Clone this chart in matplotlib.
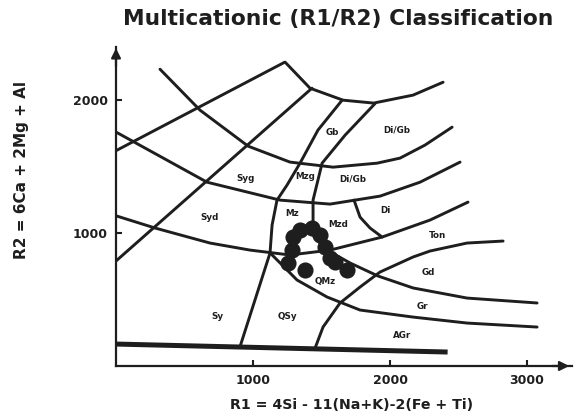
import matplotlib
matplotlib.use("Agg")
import matplotlib.pyplot as plt

plt.rcParams['font.family'] = ['DejaVu Sans']

# field boundaries of the R1-R2 diagram, (R1, R2) pairs
line_a = [(0, 1620), (1230, 2285)]
top_curve = [(1234, 2286), (1416, 2090), (1657, 2000), (1880, 1978), (2168, 2038), (2387, 2135)]
line_d = [(0, 790), (1430, 2090)]
curve_e = [(321, 2233), (613, 1925), (964, 1654), (1270, 1534), (1584, 1496),
           (1905, 1526), (2073, 1564), (2255, 1662), (2453, 1797)]
curve_b = [(0, 1760), (664, 1383), (1197, 1248), (1562, 1218), (1927, 1278),
           (2219, 1383), (2511, 1534)]
curve_c = [(0, 1130), (285, 1038), (686, 925), (978, 872), (1270, 835), (1562, 872),
           (1942, 970), (2292, 1098), (2569, 1233)]
di_bound = [(1737, 1248), (1781, 1120), (1854, 1038), (1942, 970)]
curve_h = [(1453, 135), (1511, 293), (1635, 474), (1781, 594), (1927, 707),
           (2168, 820), (2292, 865), (2562, 925), (2825, 940)]
curve_i = [(1891, 1975), (1672, 1737), (1504, 1526), (1438, 1248), (1438, 985),
           (1526, 880), (1708, 775), (1912, 677), (2168, 587), (2562, 511), (3073, 474)]
line_r1 = [(1650, 2000), (1474, 1775), (1343, 1526), (1248, 1361), (1175, 1248),
           (1139, 1060), (1124, 850), (905, 145)]
curve_j = [(1135, 840), (1321, 647), (1540, 519), (1781, 421), (2168, 368),
           (2562, 323), (3073, 293)]
base_line = [(0, 165), (2420, 105)]

boundaries = [line_a, top_curve, line_d, curve_e, curve_b, curve_c,
              di_bound, curve_h, curve_i, line_r1, curve_j]

field_names = ['Gb', 'Di/Gb', 'Syg', 'Mzg', 'Di/Gb', 'Syd', 'Mz', 'Mzd', 'Di',
               'Ton', 'Gd', 'Gr', 'AGr', 'Sy', 'QSy', 'QMz']
field_r1 = [1577, 2051, 942, 1380, 1730, 686, 1285, 1620, 1963,
            2343, 2277, 2234, 2088, 737, 1248, 1526]
field_r2 = [1759, 1775, 1414, 1429, 1406, 1120, 1150, 1068, 1173,
            985, 707, 451, 226, 376, 376, 632]

# samples
sample_r1 = [1343, 1431, 1489, 1292, 1285, 1255, 1380, 1526, 1562, 1599, 1686]
sample_r2 = [1023, 1038, 985, 970, 872, 774, 722, 895, 812, 782, 722]

ink = '#1e1e1e'

fig = plt.figure(figsize=(5.76, 4.2), dpi=100)
ax = fig.add_axes([0.2014, 0.1286, 0.7917, 0.7595])
ax.set_xlim(0, 3328)
ax.set_ylim(0, 2400)

for seg in boundaries:
    xs, ys = zip(*seg)
    ax.plot(xs, ys, color=ink, lw=2.1, solid_capstyle='round', solid_joinstyle='round')
xs, ys = zip(*base_line)
ax.plot(xs, ys, color=ink, lw=3.6, solid_capstyle='butt')

for name, x, y in zip(field_names, field_r1, field_r2):
    ax.text(x, y, name, ha='center', va='center', fontsize=6.3,
            fontweight='bold', color=ink)

ax.scatter(sample_r1, sample_r2, s=135, color=ink, zorder=5, linewidths=0)

for side in ['top', 'right']:
    ax.spines[side].set_visible(False)
for side in ['left', 'bottom']:
    ax.spines[side].set_linewidth(1.6)
    ax.spines[side].set_color(ink)

ax.annotate('', xy=(0, 1.005), xytext=(0, 0.93), xycoords='axes fraction',
            arrowprops=dict(arrowstyle='-|>', lw=1.6, color=ink, mutation_scale=14))
ax.annotate('', xy=(1.0, 0), xytext=(0.95, 0), xycoords='axes fraction',
            arrowprops=dict(arrowstyle='-|>', lw=1.6, color=ink, mutation_scale=14))

ax.set_xticks([1000, 2000, 3000])
ax.set_yticks([1000, 2000])
ax.tick_params(direction='in', length=4, width=1.5, colors=ink, labelsize=9, pad=6)
for lab in ax.get_xticklabels() + ax.get_yticklabels():
    lab.set_fontweight('bold')

fig.text(0.587, 0.955, 'Multicationic (R1/R2) Classification', ha='center', va='center',
         fontsize=15.7, fontweight='bold', color=ink)
fig.text(0.61, 0.036, 'R1 = 4Si - 11(Na+K)-2(Fe + Ti)', ha='center', va='center',
         fontsize=10.2, fontweight='bold', color=ink)
fig.text(0.038, 0.595, 'R2 = 6Ca + 2Mg + Al', ha='center', va='center', rotation=90,
         fontsize=11, fontweight='bold', color=ink)

fig.savefig('out.png', dpi=100)
